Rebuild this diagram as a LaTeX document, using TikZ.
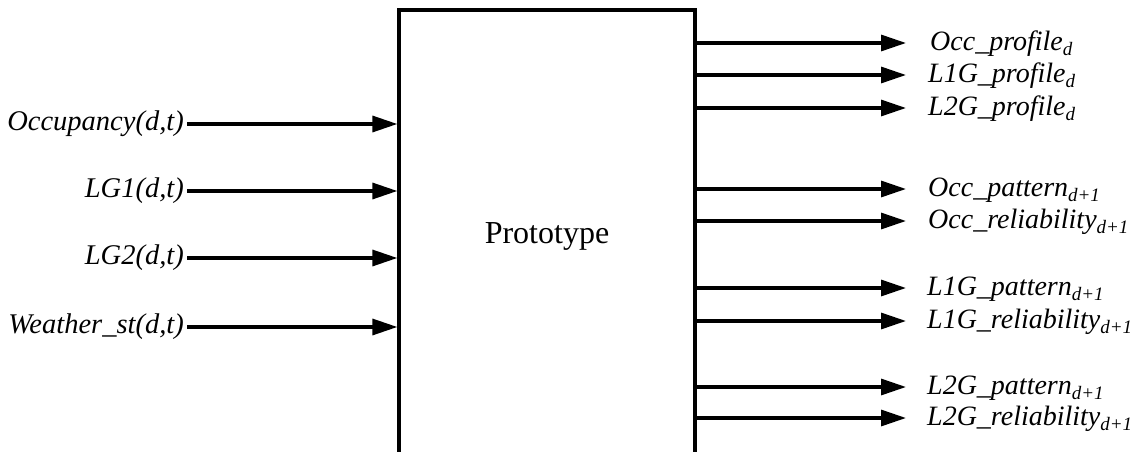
\documentclass[tikz,border=0pt]{standalone}
\usepackage{fontspec}
\setmainfont{Liberation Serif}
\usetikzlibrary{arrows.meta}
\tikzset{
  arr/.style={line width=3.2pt,-{Triangle[length=25pt,width=16pt]}},
  inlab/.style={anchor=east,inner sep=0pt,font=\fontsize{28.5}{31}\selectfont\itshape},
  outlab/.style={anchor=west,inner sep=0pt,font=\fontsize{28}{31}\selectfont\itshape},
  protobox/.style={draw,line width=3.2pt,minimum width=296pt,minimum height=460pt,inner sep=0pt}
}
\newcommand{\sbs}[1]{\raisebox{-5pt}{\fontsize{19}{20}\selectfont\itshape #1}}
\begin{document}
\begin{tikzpicture}[x=1pt,y=-1pt]
\useasboundingbox (0,0) rectangle (1136,452);
\clip (0,0) rectangle (1136,452);
\node[protobox] (proto) at (547,240) {};
\node[font=\fontsize{32}{35}\selectfont] (ptxt) at (547,236) {Prototype};
% inputs
\node[inlab] (i1) at (184,124) {Occupancy(d,t)};
\node[inlab] (i2) at (184,191) {LG1(d,t)};
\node[inlab] (i3) at (184,258) {LG2(d,t)};
\node[inlab] (i4) at (184,327) {Weather\_st(d,t)};
\foreach \n in {i1,i2,i3,i4}{
  \draw[arr] ([xshift=3pt]\n.east) -- (\n.east -| proto.west);
}
% outputs
\node[outlab] (o1) at (930,44) {Occ\_profile\sbs{d}};
\node[outlab] (o2) at (928,76) {L1G\_profile\sbs{d}};
\node[outlab] (o3) at (928,109) {L2G\_profile\sbs{d}};
\node[outlab] (o4) at (928,190) {Occ\_pattern\sbs{d+1}};
\node[outlab] (o5) at (928,222) {Occ\_reliability\sbs{d+1}};
\node[outlab] (o6) at (927,289) {L1G\_pattern\sbs{d+1}};
\node[outlab] (o7) at (927,322) {L1G\_reliability\sbs{d+1}};
\node[outlab] (o8) at (927,388) {L2G\_pattern\sbs{d+1}};
\node[outlab] (o9) at (927,419) {L2G\_reliability\sbs{d+1}};
\foreach \n/\y in {o1/43,o2/75,o3/108,o4/189,o5/221,o6/288,o7/321,o8/387,o9/418}{
  \coordinate (t\n) at (906,\y);
  \draw[arr] (proto.east |- t\n) -- (t\n);
}
\end{tikzpicture}
\end{document}
